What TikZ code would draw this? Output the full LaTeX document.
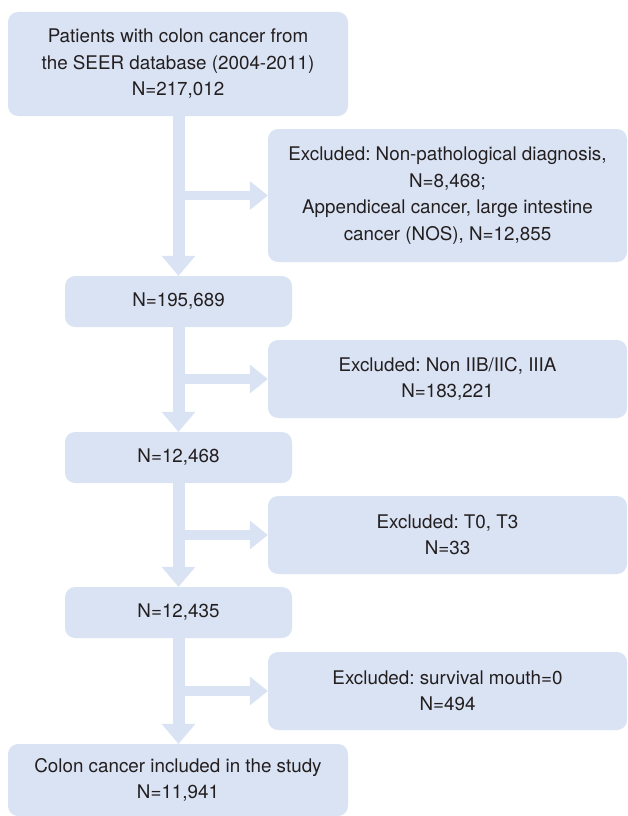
\documentclass[tikz,border=0pt]{standalone}
\usepackage{fontspec}
\setmainfont{TeX Gyre Heros}
\usetikzlibrary{arrows.meta}
\definecolor{azulclaro}{HTML}{DAE3F3}
\definecolor{grisoscuro}{HTML}{231F20}
\tikzset{
  caja/.style={fill=azulclaro, rounded corners=10pt, align=center, inner sep=0pt,
    text=grisoscuro, font=\fontsize{18.8}{26.5}\selectfont\frenchspacing},
  flechav/.style={draw=azulclaro, line width=12pt,
    -{Triangle[width=34pt,length=20pt,line width=0pt]}},
  flechah/.style={draw=azulclaro, line width=9.5pt,
    -{Triangle[width=29pt,length=18pt,line width=0pt]}}
}
\begin{document}
\begin{tikzpicture}[x=1pt,y=-1pt]
  \useasboundingbox (0,0) rectangle (628,816);
  \clip (0,0) rectangle (628,816);

  % Cajas principales
  \node[caja, minimum width=340pt, minimum height=104pt] (total) at (178,64)
    {Patients with colon cancer from\\the SEER database (2004-2011)\\N=217,012};
  \node[caja, minimum width=227pt, minimum height=51pt] (paso1) at (178.5,301.5) {N=195,689};
  \node[caja, minimum width=227pt, minimum height=51pt] (paso2) at (178.5,457.5) {N=12,468};
  \node[caja, minimum width=227pt, minimum height=51pt] (paso3) at (178.5,612.5) {N=12,435};
  \node[caja, minimum width=340pt, minimum height=72pt] (final) at (178,780)
    {Colon cancer included in the study\\N=11,941};

  % Cajas de excluidos
  \node[caja, minimum width=359pt, minimum height=133pt] (excl1) at (447.5,195.5)
    {Excluded: Non-pathological diagnosis,\\N=8,468;\\Appendiceal cancer, large intestine\\cancer (NOS), N=12,855};
  \node[caja, minimum width=359pt, minimum height=78pt] (excl2) at (447.5,379)
    {Excluded: Non IIB/IIC, IIIA\\N=183,221};
  \node[caja, minimum width=359pt, minimum height=78pt] (excl3) at (447.5,535)
    {Excluded: T0, T3\\N=33};
  \node[caja, minimum width=359pt, minimum height=78pt] (excl4) at (447.5,691)
    {Excluded: survival mouth=0\\N=494};

  % Flechas hacia abajo
  \draw[flechav] (paso1.north |- total.south) -- (paso1.north);
  \draw[flechav] (paso1.south) -- (paso2.north);
  \draw[flechav] (paso2.south) -- (paso3.north);
  \draw[flechav] (paso3.south) -- (final.north -| paso3.south);

  % Flechas hacia los excluidos
  \draw[flechah] (paso1.north |- excl1.west) -- (excl1.west);
  \draw[flechah] (paso1.north |- excl2.west) -- (excl2.west);
  \draw[flechah] (paso1.north |- excl3.west) -- (excl3.west);
  \draw[flechah] (paso1.north |- excl4.west) -- (excl4.west);
\end{tikzpicture}
\end{document}
